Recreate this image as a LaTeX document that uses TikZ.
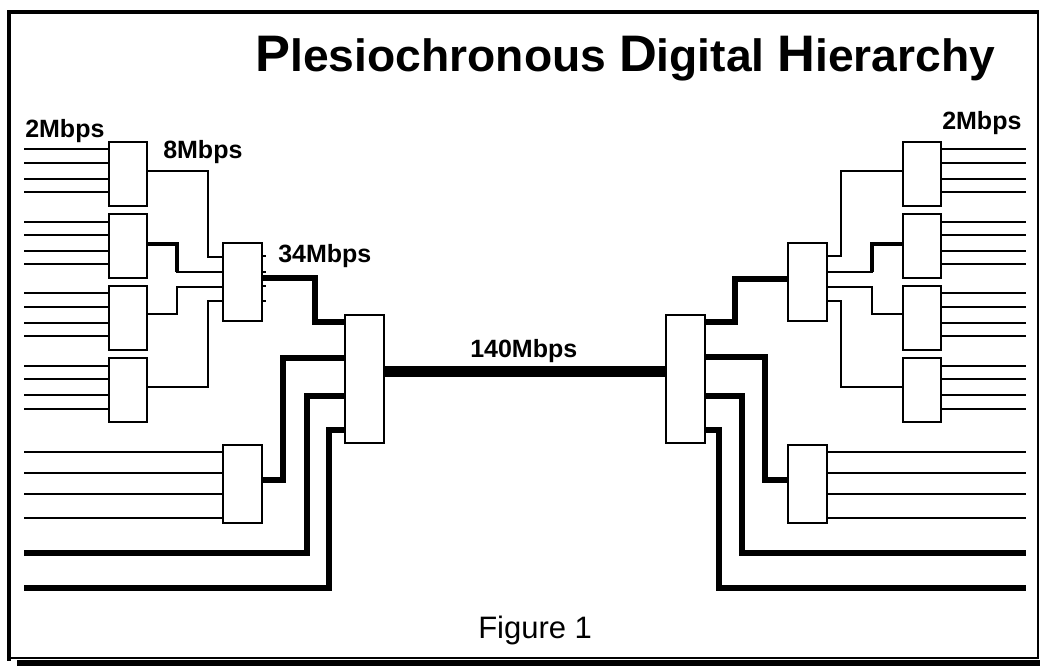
\documentclass[tikz,border=0pt]{standalone}
\usepackage{fontspec}
\setmainfont{Liberation Sans}
\usepackage{graphicx}
\newcommand\pdhcap[1]{{\fontsize{34}{34}\selectfont #1}}
\begin{document}
\begin{tikzpicture}[x=0.75pt,y=-0.75pt,
  box/.style={draw, line width=1.5pt, fill=white, inner sep=0pt, outer sep=0pt, anchor=north west},
  boxA/.style={box, minimum width=28.5pt, minimum height=48pt},
  boxB/.style={box, minimum width=29pt, minimum height=58.5pt},
  boxC/.style={box, minimum width=29pt, minimum height=96pt},
  wire/.style={line width=1.5pt},
  midwire/.style={line width=2.6pt},
  fat/.style={line width=4pt},
  trunk/.style={line width=8.25pt},
  lbl/.style={font=\fontsize{18.75}{20}\selectfont\bfseries, inner sep=0pt, anchor=base west}]
\useasboundingbox (0,0) rectangle (1040,666);
% frame
\draw[line width=1.1pt] (1038,12.5) -- (1038,658) -- (9,658);
\draw[line width=3pt] (9,661) -- (9,12.5) -- (1039,12.5);
\fill (17,660) rectangle (1040,666);
% title
\node[anchor=base west, inner sep=0pt] (title) at (255,72)
  {\resizebox{555pt}{26.5pt}{\fontsize{30}{30}\selectfont\bfseries\pdhcap{P}lesiochronous \pdhcap{D}igital \pdhcap{H}ierarchy}};
\node[anchor=base west, inner sep=0pt, font=\fontsize{23.25}{24}\selectfont] (fig) at (478,639) {Figure 1};
% left boxes
\node[boxA] (A1) at (109,142) {};
\node[boxA] (A2) at (109,214) {};
\node[boxA] (A3) at (109,286) {};
\node[boxA] (A4) at (109,358) {};
\node[boxB] (B1) at (223,243) {};
\node[boxB] (D)  at (223,445) {};
\node[boxC] (C1) at (345,315) {};
% right boxes
\node[boxC] (C2) at (666,315) {};
\node[boxB] (F1) at (788,243) {};
\node[boxB] (G)  at (788,445) {};
\node[boxA] (E1) at (903,142) {};
\node[boxA] (E2) at (903,214) {};
\node[boxA] (E3) at (903,286) {};
\node[boxA] (E4) at (903,358) {};
% left inputs
\foreach \y in {149,163,179,192} \draw[wire] (24,\y) -- (A1.west |- 0,\y);
\foreach \y in {222,235,251,264} \draw[wire] (24,\y) -- (A2.west |- 0,\y);
\foreach \y in {293,307,323,336} \draw[wire] (24,\y) -- (A3.west |- 0,\y);
\foreach \y in {366,379,395,409} \draw[wire] (24,\y) -- (A4.west |- 0,\y);
\foreach \y in {452,473,494,518} \draw[wire] (24,\y) -- (D.west |- 0,\y);
% 2 -> 8 (left)
\draw[wire] (A1.east |- 0,171) -| (208,257) -- (B1.west |- 0,257);
\draw[midwire] (A2.east |- 0,244) -| (177,272);
\draw[wire] (176,272) -- (B1.west |- 0,272);
\draw[wire] (A3.east |- 0,314) -| (177,287) -- (B1.west |- 0,287);
\draw[wire] (A4.east |- 0,387) -| (208,301) -- (B1.west |- 0,301);
\foreach \y in {256,272,286,301} \draw[wire] (B1.east |- 0,\y) -- ++(4,0);
% 34 -> 140 (left)
\draw[fat] (B1.east |- 0,278) -| (315,322) -- (C1.west |- 0,322);
\draw[fat] (D.east |- 0,480) -| (283,358) -- (C1.west |- 0,358);
\draw[fat] (24,553) -| (307,396) -- (C1.west |- 0,396);
\draw[fat] (24,588) -| (329,430) -- (C1.west |- 0,430);
% trunk
\draw[trunk] (C1.east |- 0,372) -- (C2.west |- 0,372);
% right 140 -> 34
\draw[fat] (C2.east |- 0,322) -| (735,279) -- (F1.west |- 0,279);
\draw[fat] (C2.east |- 0,357) -| (765,480) -- (G.west |- 0,480);
\draw[fat] (C2.east |- 0,396) -| (742,553) -- (1026,553);
\draw[fat] (C2.east |- 0,430) -| (719,588) -- (1026,588);
% right 8 -> 2
\draw[wire] (F1.east |- 0,256) -| (841,171) -- (E1.west |- 0,171);
\draw[wire] (F1.east |- 0,272) -- (873,272);
\draw[midwire] (872,272) |- (E2.west |- 0,244);
\draw[wire] (F1.east |- 0,287) -| (872,314) -- (E3.west |- 0,314);
\draw[wire] (F1.east |- 0,301) -| (841,387) -- (E4.west |- 0,387);
% right outputs
\foreach \y in {149,163,179,192} \draw[wire] (E1.east |- 0,\y) -- (1026,\y);
\foreach \y in {222,235,251,264} \draw[wire] (E2.east |- 0,\y) -- (1026,\y);
\foreach \y in {293,307,323,336} \draw[wire] (E3.east |- 0,\y) -- (1026,\y);
\foreach \y in {366,379,395,409} \draw[wire] (E4.east |- 0,\y) -- (1026,\y);
\foreach \y in {452,473,494,518} \draw[wire] (G.east |- 0,\y) -- (1026,\y);
% labels
\node[lbl] (l2a) at (25,138) {2Mbps};
\node[lbl] (l8) at (163,159) {8Mbps};
\node[lbl] (l34) at (278,263) {34Mbps};
\node[lbl] (l140) at (470,358) {140Mbps};
\node[lbl] (l2b) at (942,130) {2Mbps};
\end{tikzpicture}
\end{document}
